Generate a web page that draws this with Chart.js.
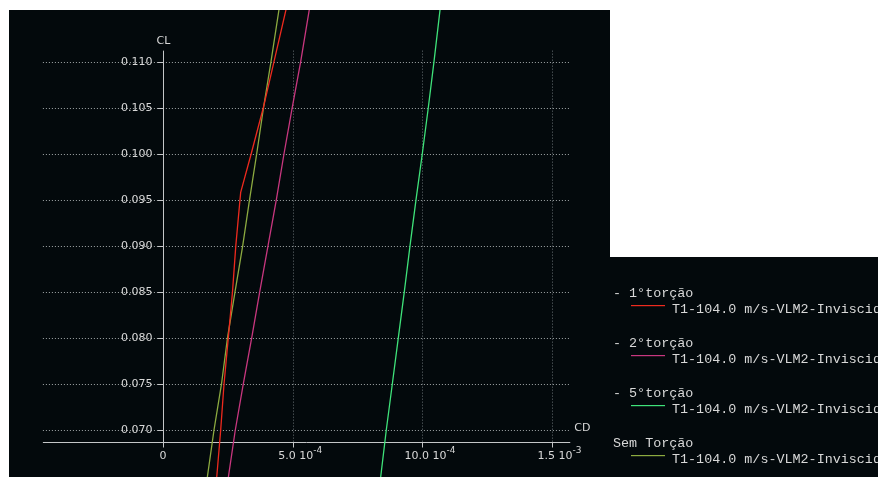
<!DOCTYPE html>
<html>
<head>
<meta charset="utf-8">
<script src="https://cdn.jsdelivr.net/npm/chart.js@4/dist/chart.umd.min.js"></script>
<style>
  html, body { margin: 0; padding: 0; background: #ffffff; overflow: hidden; }
  #wrap { position: relative; width: 878px; height: 477px; }
  canvas { display: block; }
</style>
</head>
<body>
<div id="wrap"><canvas id="polar" width="878" height="477"></canvas></div>
<script>
// Polar CL x CD, VLM2 inviscid, T1 at 104.0 m/s, for each wing twist
const seriesNames = ['- 1°torção', '- 2°torção', '- 5°torção', 'Sem Torção'];
const polarName = 'T1-104.0 m/s-VLM2-Inviscid';

// lift coefficient stations shared by most curves
const clStations = [0.0645, 0.070, 0.075, 0.080, 0.085, 0.090, 0.095, 0.100, 0.105, 0.110, 0.116];
// the 1° twist curve has an extra station at its kink
const clStations1 = [0.0645, 0.070, 0.075, 0.080, 0.085, 0.090, 0.095, 0.0958, 0.100, 0.105, 0.110, 0.116];

// drag coefficients
const cdTorcao1 = [2.06e-4, 2.224e-4, 2.352e-4, 2.517e-4, 2.679e-4, 2.806e-4, 2.968e-4, 2.995e-4, 3.400e-4, 3.867e-4, 4.279e-4, 4.77e-4];
const cdTorcao2 = [2.50e-4, 2.787e-4, 3.096e-4, 3.419e-4, 3.728e-4, 4.048e-4, 4.368e-4, 4.665e-4, 4.981e-4, 5.308e-4, 5.66e-4];
const cdTorcao5 = [8.375e-4, 8.608e-4, 8.840e-4, 9.071e-4, 9.302e-4, 9.522e-4, 9.753e-4, 9.996e-4, 10.227e-4, 10.447e-4, 10.695e-4];
const cdSemTorcao = [1.69e-4, 1.966e-4, 2.255e-4, 2.486e-4, 2.776e-4, 3.072e-4, 3.335e-4, 3.612e-4, 3.874e-4, 4.163e-4, 4.49e-4];

// axis ticks and labels
const clTicks = [0.070, 0.075, 0.080, 0.085, 0.090, 0.095, 0.100, 0.105, 0.110];
const clTickLabels = ['0.070', '0.075', '0.080', '0.085', '0.090', '0.095', '0.100', '0.105', '0.110'];
const cdTicks = [0, 5.0e-4, 10.0e-4, 1.5e-3];
const cdTickMantissa = ['0', '5.0', '10.0', '1.5'];
const cdTickExponent = ['', '-4', '-4', '-3'];

// extent of the drawn axes (the view is wider)
const cdAxisRange = [-4.63e-4, 1.57e-3];
const clAxisRange = [0.0687, 0.1112];

const colors = ['#ee2a1e', '#c8377f', '#3fe27a', '#8caa40'];
const plotBg = '#03090c';
const textColor = '#d8d8d8';

function points(xs, ys) {
  return xs.map((x, i) => ({ x: x, y: ys[i] }));
}

const seriesData = [
  points(cdTorcao1, clStations1),
  points(cdTorcao2, clStations),
  points(cdTorcao5, clStations),
  points(cdSemTorcao, clStations)
];

const polarFrame = {
  id: 'polarFrame',
  beforeDraw(chart) {
    const { ctx, chartArea: a } = chart;
    ctx.save();
    ctx.fillStyle = '#ffffff';
    ctx.fillRect(0, 0, chart.width, chart.height);
    ctx.fillStyle = plotBg;
    ctx.fillRect(a.left, a.top, a.right - a.left, a.bottom - a.top);
    // legend panel
    ctx.fillRect(a.right, 257, chart.width - a.right, chart.height - 257);
    ctx.restore();
  },
  beforeDatasetsDraw(chart) {
    const { ctx } = chart;
    const xs = chart.scales.x, ys = chart.scales.y;
    const xl = xs.getPixelForValue(cdAxisRange[0]);
    const xr = xs.getPixelForValue(cdAxisRange[1]);
    const yb = Math.round(ys.getPixelForValue(clAxisRange[0])) + 0.5;
    const yt = ys.getPixelForValue(clAxisRange[1]);
    const x0 = Math.round(xs.getPixelForValue(0)) + 0.5;
    ctx.save();
    ctx.lineWidth = 1;

    // horizontal grid
    ctx.setLineDash([1, 2]);
    ctx.strokeStyle = 'rgba(190,195,198,0.85)';
    clTicks.forEach(v => {
      const y = Math.round(ys.getPixelForValue(v)) + 0.5;
      ctx.beginPath(); ctx.moveTo(xl, y); ctx.lineTo(xr, y); ctx.stroke();
    });
    // vertical grid
    ctx.strokeStyle = 'rgba(120,128,132,0.85)';
    cdTicks.forEach(v => {
      if (v === 0) return;
      const x = Math.round(xs.getPixelForValue(v)) + 0.5;
      ctx.beginPath(); ctx.moveTo(x, yt); ctx.lineTo(x, yb); ctx.stroke();
    });
    ctx.setLineDash([]);

    // axes
    ctx.strokeStyle = '#c4c6c8';
    ctx.beginPath(); ctx.moveTo(xl, yb); ctx.lineTo(xr, yb); ctx.stroke();
    ctx.beginPath(); ctx.moveTo(x0, yt); ctx.lineTo(x0, yb); ctx.stroke();
    clTicks.forEach(v => {
      const y = Math.round(ys.getPixelForValue(v)) + 0.5;
      ctx.beginPath(); ctx.moveTo(x0 - 6, y); ctx.lineTo(x0, y); ctx.stroke();
    });
    cdTicks.forEach(v => {
      const x = Math.round(xs.getPixelForValue(v)) + 0.5;
      ctx.beginPath(); ctx.moveTo(x, yb); ctx.lineTo(x, yb + 5); ctx.stroke();
    });

    // tick labels
    ctx.fillStyle = textColor;
    ctx.font = '11px "DejaVu Sans"';
    ctx.textBaseline = 'middle';
    ctx.textAlign = 'right';
    clTicks.forEach((v, i) => {
      ctx.fillText(clTickLabels[i], x0 - 11, ys.getPixelForValue(v) + 0.5);
    });
    ctx.textAlign = 'left';
    const ly = yb + 13.5;
    cdTicks.forEach((v, i) => {
      const x = xs.getPixelForValue(v);
      ctx.font = '11px "DejaVu Sans"';
      const mant = cdTickMantissa[i];
      if (!cdTickExponent[i]) {
        const w = ctx.measureText(mant).width;
        ctx.fillText(mant, x - w / 2, ly);
        return;
      }
      const base = mant + ' 10';
      const w = ctx.measureText(base).width;
      const left = x + 3 - w / 2;
      ctx.fillText(base, left, ly);
      ctx.font = '9px "DejaVu Sans"';
      ctx.fillText(cdTickExponent[i], left + w, ly - 5);
    });

    // axis titles
    ctx.font = '11px "DejaVu Sans"';
    ctx.textAlign = 'center';
    ctx.fillText('CL', x0, yt - 9);
    ctx.textAlign = 'left';
    ctx.fillText('CD', xr + 4, yb - 14);
    ctx.restore();
  },
  afterDraw(chart) {
    const { ctx, chartArea: a } = chart;
    const px = a.right;
    ctx.save();
    ctx.font = '13.4px "Liberation Mono"';
    ctx.textBaseline = 'middle';
    ctx.textAlign = 'left';
    seriesNames.forEach((name, i) => {
      const top = 293 + 50 * i;
      ctx.fillStyle = textColor;
      ctx.fillText(name, px + 3, top);
      ctx.fillText(polarName, px + 62, top + 16);
      // line sample in the series colour
      ctx.fillStyle = colors[i];
      ctx.fillRect(px + 21, top + 12, 34, 1.2);
    });
    ctx.restore();
  }
};

new Chart(document.getElementById('polar'), {
  type: 'scatter',
  data: {
    datasets: seriesNames.map((name, i) => ({
      label: name,
      data: seriesData[i],
      showLine: true,
      borderColor: colors[i],
      backgroundColor: colors[i],
      borderWidth: 1.3,
      pointRadius: 0,
      pointHoverRadius: 0,
      tension: 0
    }))
  },
  options: {
    responsive: false,
    animation: false,
    devicePixelRatio: 1,
    layout: { padding: { left: 9, top: 10, right: 268, bottom: 0 } },
    plugins: { legend: { display: false }, tooltip: { enabled: false } },
    events: [],
    scales: {
      x: { type: 'linear', min: -5.937e-4, max: 1.7232e-3, display: false },
      y: { type: 'linear', min: 0.064896, max: 0.115613, display: false }
    }
  },
  plugins: [polarFrame]
});
</script>
</body>
</html>
